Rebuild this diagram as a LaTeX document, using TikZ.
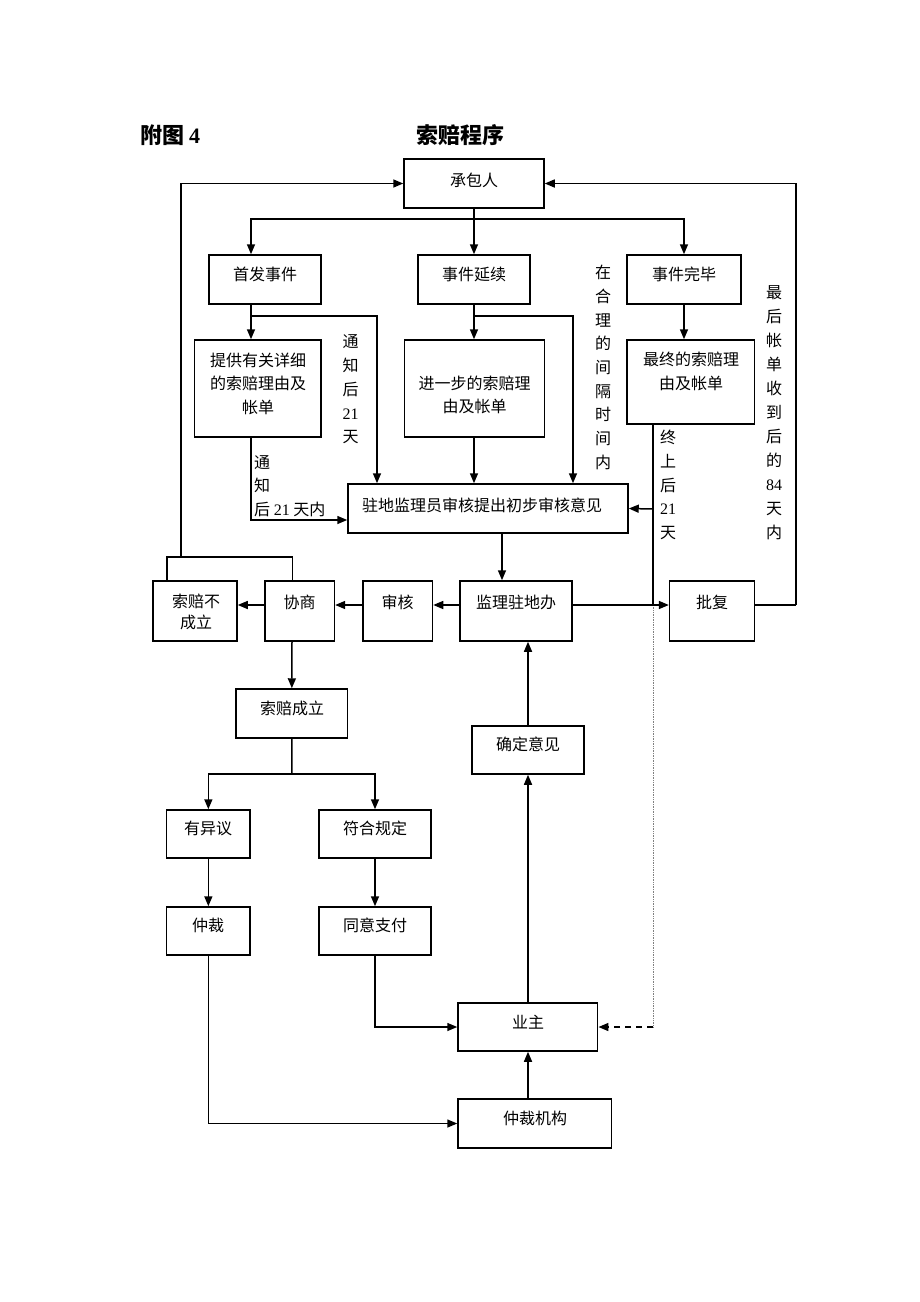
\documentclass[tikz,border=0pt]{standalone}
\usepackage{fontspec}
\setmainfont{Liberation Serif}
\newfontfamily\cjk{Noto Sans CJK SC}
\usetikzlibrary{arrows.meta}
\newcommand\dg[1]{{\rmfamily #1}}
\begin{document}
\begin{tikzpicture}[x=1pt,y=-1pt,
  box/.style={draw, line width=1.5pt, inner sep=0pt},
  txt/.style={font=\cjk\fontsize{16}{23.5}\selectfont, inner sep=0pt, align=center},
  vlab/.style={font=\cjk\fontsize{16}{23.7}\selectfont, inner sep=0pt, align=center},
  ln/.style={line width=1.5pt},
  arr/.style={line width=1.5pt, -{Triangle[length=10pt,width=8pt]}},
]
\fill[white] (0,0) rectangle (920,1302);
\useasboundingbox (0,0) rectangle (920,1302);

% title
\node[font=\cjk\bfseries\fontsize{22}{26}\selectfont, anchor=west, inner sep=0pt] (t1) at (140,135) {附图 \dg{\bfseries 4}};
\node[font=\cjk\bfseries\fontsize{22}{26}\selectfont, inner sep=0pt] (t2) at (460,135) {索赔程序};

% boxes
\node[box, minimum width=140pt, minimum height=49pt] (cbr) at (474,183.5) {};
\node[box, minimum width=112pt, minimum height=49pt] (sj1) at (265,279.5) {};
\node[box, minimum width=112pt, minimum height=49pt] (sj2) at (474,279.5) {};
\node[box, minimum width=114pt, minimum height=49pt] (sj3) at (684,279.5) {};
\node[box, minimum width=126.5pt, minimum height=97pt] (tg) at (257.75,388.5) {};
\node[box, minimum width=140pt, minimum height=97pt] (jy) at (474.5,388.5) {};
\node[box, minimum width=127.6pt, minimum height=84pt] (zz) at (690.8,382) {};
\node[box, minimum width=280pt, minimum height=49pt] (zd) at (488,508.5) {};
\node[box, minimum width=84pt, minimum height=60pt] (bcl) at (195,611) {};
\node[box, minimum width=69.4pt, minimum height=60pt] (xs) at (299.7,611) {};
\node[box, minimum width=69.5pt, minimum height=60pt] (sh) at (397.75,611) {};
\node[box, minimum width=112pt, minimum height=60pt] (jl) at (516,611) {};
\node[box, minimum width=85pt, minimum height=60pt] (pf) at (712.1,611) {};
\node[box, minimum width=111.7pt, minimum height=49pt] (cl) at (291.85,713.5) {};
\node[box, minimum width=83.3pt, minimum height=48pt] (yy) at (208.35,834) {};
\node[box, minimum width=112pt, minimum height=48pt] (fh) at (375,834) {};
\node[box, minimum width=83.3pt, minimum height=48pt] (zc) at (208.35,931) {};
\node[box, minimum width=112pt, minimum height=48pt] (ty) at (375,931) {};
\node[box, minimum width=112pt, minimum height=48pt] (qd) at (528,750) {};
\node[box, minimum width=139.7pt, minimum height=48pt] (yz) at (527.85,1027) {};
\node[box, minimum width=153.7pt, minimum height=49pt] (zcjg) at (534.85,1123.5) {};

% box texts
\node[txt] (cbrT) at (474,180) {承包人};
\node[txt] (sj1T) at (265,274) {首发事件};
\node[txt] (sj2T) at (474,274) {事件延续};
\node[txt] (sj3T) at (684,274) {事件完毕};
\node[txt] (tgT) at (258,383.5) {提供有关详细\\的索赔理由及\\帐单};
\node[txt] (jyT) at (474.5,395) {进一步的索赔理\\由及帐单};
\node[txt] (zzT) at (691,371.5) {最终的索赔理\\由及帐单};
\node[txt] (zdT) at (482,505) {驻地监理员审核提出初步审核意见};
\node[txt, font=\cjk\fontsize{16}{21.3}\selectfont] (bclT) at (196,612) {索赔不\\成立};
\node[txt] (xsT) at (299.7,602) {协商};
\node[txt] (shT) at (397.7,602) {审核};
\node[txt] (jlT) at (516,602) {监理驻地办};
\node[txt] (pfT) at (712,602) {批复};
\node[txt] (clT) at (292,708) {索赔成立};
\node[txt] (yyT) at (208,828) {有异议};
\node[txt] (fhT) at (375,828) {符合规定};
\node[txt] (zcT) at (208,925) {仲裁};
\node[txt] (tyT) at (375,925) {同意支付};
\node[txt] (qdT) at (528,744) {确定意见};
\node[txt] (yzT) at (528,1022) {业主};
\node[txt] (zcjgT) at (535,1118) {仲裁机构};

% vertical labels
\node[vlab] (v1) at (350.5,389.5) {通\\知\\后\\\dg{21}\\天};
\node[vlab, align=left, anchor=west] (v2) at (254,486) {通\\知\\后 \dg{21} 天内};
\node[vlab] (v3) at (603,367.5) {在\\合\\理\\的\\间\\隔\\时\\间\\内};
\node[vlab] (v4) at (668,485) {终\\上\\后\\\dg{21}\\天};
\node[vlab, font=\cjk\fontsize{16}{24}\selectfont] (v5) at (774,413) {最\\后\\帐\\单\\收\\到\\后\\的\\\dg{84}\\天\\内};

% junctions
\coordinate (s1) at (474,219);
\coordinate (j1) at (251,316);
\coordinate (j2) at (474,316);
\coordinate (j3) at (292,774);
\coordinate (k1) at (653,605);
\coordinate (k2) at (653,1027);
\coordinate (k3) at (292.6,557);
\coordinate (k4) at (181,557);
\coordinate (k5) at (796,605);

% connectors
\draw[arr] (cbr.south) -- (sj2.north);
\draw[arr] (s1) -| (251,0 |- sj1.north);
\draw[arr] (s1) -| (sj3.north);
\draw[arr] (251,0 |- sj1.south) -- (251,0 |- tg.north);
\draw[arr] (j1) -| (377,0 |- zd.north);
\draw[arr] (sj2.south) -- (474,0 |- jy.north);
\draw[arr] (j2) -| (573,0 |- zd.north);
\draw[arr] (474,0 |- jy.south) -- (474,0 |- zd.north);
\draw[arr] (sj3.south) -- (684,0 |- zz.north);
\draw[arr] (251,0 |- tg.south) |- (zd.west |- 0,520);
\draw[ln] (653,0 |- zz.south) -- (k1);
\draw[arr] (653,509) -- (zd.east);
\draw[densely dotted, gray, line width=0.7pt] (k1) -- (k2);
\draw[arr, dash pattern=on 6pt off 5pt] (k2) -- (yz.east);
\draw[arr] (502,0 |- zd.south) -- (502,0 |- jl.north);
\draw[arr] (jl.west |- 0,605) -- (sh.east |- 0,605);
\draw[arr] (sh.west |- 0,605) -- (xs.east |- 0,605);
\draw[arr] (xs.west |- 0,605) -- (bcl.east |- 0,605);
\draw[arr] (jl.east |- 0,605) -- (pf.west |- 0,605);
\draw[ln] (pf.east |- 0,605) -- (k5);
\draw[arr] (k5) |- (cbr.east);
\draw[ln] (292.6,0 |- xs.north) -- (k3) -| (167,0 |- bcl.north);
\draw[arr] (k4) |- (cbr.west);
\draw[arr] (292,0 |- xs.south) -- (cl.north);
\draw[ln] (cl.south) -- (j3);
\draw[arr] (j3) -| (yy.north);
\draw[arr] (j3) -| (fh.north);
\draw[arr] (yy.south) -- (zc.north);
\draw[arr] (fh.south) -- (ty.north);
\draw[arr] (zc.south) |- (zcjg.west);
\draw[arr] (ty.south) |- (yz.west);
\draw[arr] (528,0 |- zcjg.north) -- (528,0 |- yz.south);
\draw[arr] (528,0 |- yz.north) -- (528,0 |- qd.south);
\draw[arr] (qd.north) -- (qd.north |- jl.south);
\end{tikzpicture}
\end{document}
